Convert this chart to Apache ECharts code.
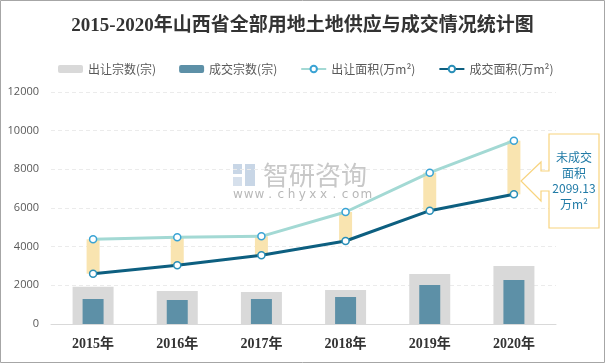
<!DOCTYPE html>
<html><head><meta charset="utf-8">
<script src="https://cdn.jsdelivr.net/npm/echarts@6/dist/echarts.min.js"></script>
<style>html,body{margin:0;padding:0;background:#fff}#c{width:605px;height:363px}</style>
</head><body><div id="c"></div>
<script>
const categories = ['2015年','2016年','2017年','2018年','2019年','2020年'];
const supplyCount = [1930, 1707, 1655, 1759, 2586, 3000];
const dealCount = [1293, 1241, 1293, 1397, 2017, 2276];
const supplyArea = [4381, 4484, 4534, 5793, 7828, 9481];
const dealArea = [2603, 3034, 3552, 4293, 5862, 6707];
const yMin = 0, yMax = 12000, yStep = 2000;
const seriesNames = ['出让宗数(宗)','成交宗数(宗)','出让面积(万m²)','成交面积(万m²)'];
const titleText = '2015-2020年山西省全部用地土地供应与成交情况统计图';
const calloutLines = ['未成交','面积','2099.13','万m²'];

const chart = echarts.init(document.getElementById('c'), null, {renderer:'canvas'});
const bandData = categories.map((c,i)=>[i, supplyArea[i], dealArea[i]]);
const wmChars = 'www.chyxx.com'.split('');

const option = {
  backgroundColor:'#fff',
  animation:false,
  title:{text:titleText,left:'center',top:12,textStyle:{fontFamily:"'Liberation Serif','Noto Sans CJK SC'",fontWeight:'bold',fontSize:19,color:'#333'}},
  legend:{top:58,left:53,itemWidth:25,itemHeight:8,itemGap:23,
    data:seriesNames,
    textStyle:{fontSize:12,color:'#595959',fontFamily:"'Noto Sans CJK SC'"}},
  grid:{left:51,right:49,top:92,bottom:39,containLabel:false},
  xAxis:[
    {type:'category',data:categories,axisTick:{show:false},
     axisLine:{lineStyle:{color:'#d9d9d9',width:1}},
     axisLabel:{margin:13,fontSize:14,fontWeight:'bold',color:'#333',fontFamily:"'Liberation Serif','Noto Sans CJK SC'"}},
    {type:'category',data:categories,show:false}
  ],
  yAxis:{type:'value',min:yMin,max:yMax,interval:yStep,
    axisLine:{show:false},axisTick:{show:false},
    axisLabel:{margin:12,fontSize:11,color:'#595959',fontFamily:"'Open Sans','Noto Sans'",formatter:function(v){return String(v);}},
    splitLine:{lineStyle:{color:'#ebebeb',type:[4,3],width:1}}},
  series:[
    {name:seriesNames[0],type:'bar',xAxisIndex:0,data:supplyCount,barWidth:41,itemStyle:{color:'#d9d9d9'},z:1},
    {name:seriesNames[1],type:'bar',xAxisIndex:1,data:dealCount,barWidth:21,itemStyle:{color:'#5d90a7'},z:2},
    {type:'custom',name:'band',xAxisIndex:0,data:bandData,z:3,
      renderItem:function(params,api){
        const x=api.value(0);
        const p1=api.coord([x,api.value(1)]);
        const p2=api.coord([x,api.value(2)]);
        const w=13;
        return {type:'rect',shape:{x:p1[0]-w/2,y:p1[1],width:w,height:p2[1]-p1[1]},style:{fill:'#f9e4b0'}};
      }},
    {name:seriesNames[2],type:'line',data:supplyArea,z:5,symbol:'circle',symbolSize:7,
      lineStyle:{color:'#a3d9d4',width:3},itemStyle:{color:'#fff',borderColor:'#3aa3d4',borderWidth:1.5}},
    {name:seriesNames[3],type:'line',data:dealArea,z:5,symbol:'circle',symbolSize:7,
      lineStyle:{color:'#0d5f80',width:3},itemStyle:{color:'#fff',borderColor:'#2a8fb8',borderWidth:1.5}}
  ],
  graphic:[
    {type:'rect',shape:{x:0.5,y:0.5,width:604,height:362},style:{fill:'none',stroke:'#a6a6a6',lineWidth:1},z:100,silent:true},
    {type:'group',z:0,silent:true,children:[
      {type:'rect',shape:{x:233,y:164,width:9,height:10},style:{fill:'#c8d6e6'}},
      {type:'rect',shape:{x:245,y:164,width:10,height:22},style:{fill:'#c8d6e6'}},
      {type:'rect',shape:{x:233,y:177,width:9,height:9},style:{fill:'#d6e0ec'}},
      {type:'text',style:{x:263,y:175,text:'智研咨询',font:"26px 'Noto Sans CJK SC'",fill:'#c8c8c8',verticalAlign:'middle'}},
      ...wmChars.map((ch,i)=>({type:'text',style:{x:238+i*10.7,y:195,text:ch,font:"12px 'DejaVu Sans'",fill:'#b8b8b8',align:'center',verticalAlign:'middle'}}))
    ]},
    {type:'polygon',z:50,shape:{points:[[549,134],[599,134],[599,228],[549,228],[549,191],[541,191],[541,201],[521,181],[541,162],[541,171],[549,171]]},
      style:{fill:'#fff',stroke:'#f8d47f',lineWidth:1.2}},
    {type:'text',z:51,style:{x:574,y:181,text:calloutLines.join('\n'),font:"12px 'Noto Sans CJK SC'",lineHeight:15.5,fill:'#1f7aa6',align:'center',verticalAlign:'middle'}}
  ]
};
chart.setOption(option);
</script></body></html>
